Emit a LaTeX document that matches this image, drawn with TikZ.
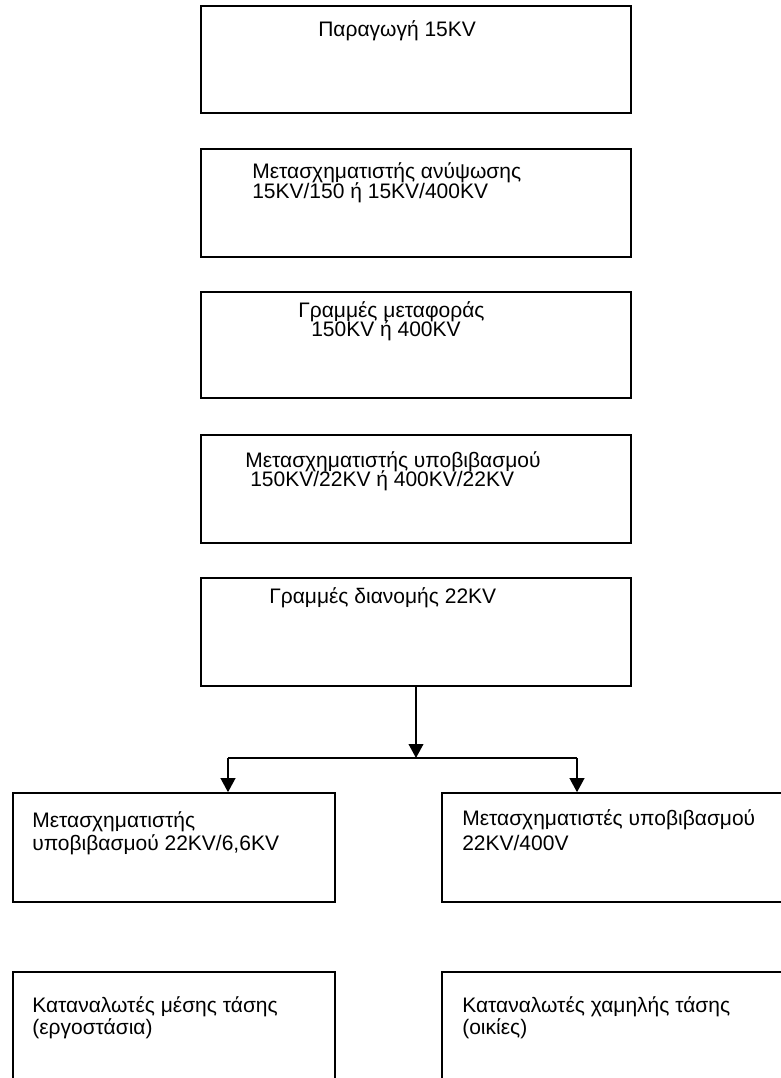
\documentclass[tikz,border=0pt]{standalone}
\usepackage{fontspec}
\setmainfont{Liberation Sans}
\usetikzlibrary{fit,arrows.meta}

\begin{document}
\begin{tikzpicture}[x=0.75pt,y=-0.75pt,
    box/.style={draw, line width=1.2pt, inner sep=0pt},
    txt/.style={anchor=base west, inner sep=0pt, font=\fontsize{15.75}{18}\selectfont},
    arr/.style={line width=1.3pt, -{Triangle[length=10.5pt,width=11pt]}}]
      \useasboundingbox (0,0) rectangle (781,1078);
      \clip (0,0) rectangle (781,1078);
      % Draw the boxes
      \node[box, fit={(201,6) (631,113)}] (b1) {};
      \node[box, fit={(201,149) (631,257)}] (b2) {};
      \node[box, fit={(201,292) (631,398)}] (b3) {};
      \node[box, fit={(201,435) (631,543)}] (b4) {};
      \node[box, fit={(201,578) (631,686)}] (b5) {};
      \node[box, fit={(13,793) (335,902)}] (b6) {};
      \node[box, fit={(442,793) (812,902)}] (b7) {};
      \node[box, fit={(13,972) (335,1110)}] (b8) {};
      \node[box, fit={(442,972) (812,1110)}] (b9) {};
      % Draw the texts
      \node[txt] (t1) at (318, 36) {Παραγωγή 15KV};
        \node[txt] (t21) at (252, 178) {Μετασχηματιστής ανύψωσης};
        \node[txt] (t22) at (252, 198) {15KV/150 ή 15KV/400KV};
        \node[txt] (t31) at (298, 317) {Γραμμές μεταφοράς};
        \node[txt] (t32) at (311, 336) {150KV ή 400KV};
        \node[txt] (t41) at (245, 467) {Μετασχηματιστής υποβιβασμού};
        \node[txt] (t42) at (250, 486) {150KV/22KV ή 400KV/22KV};
      \node[txt] (t5) at (269, 603) {Γραμμές διανομής 22KV};
        \node[txt] (t61) at (32, 827) {Μετασχηματιστής};
        \node[txt] (t62) at (32, 850) {υποβιβασμού 22KV/6,6KV};
        \node[txt] (t71) at (462, 825) {Μετασχηματιστές υποβιβασμού};
        \node[txt] (t72) at (462, 850) {22KV/400V};
        \node[txt] (t81) at (32, 1012) {Καταναλωτές μέσης τάσης};
        \node[txt] (t82) at (32, 1034) {(εργοστάσια)};
        \node[txt] (t91) at (462, 1012) {Καταναλωτές χαμηλής τάσης};
        \node[txt] (t92) at (462, 1034) {(οικίες)};
      % Draw the connectors
      \coordinate (split) at (416, 758);
      \coordinate (jl) at (228, 758);
      \coordinate (jr) at (577, 758);
      \draw[arr] (b5.south -| split) -- (split);
      \draw[line width=1.3pt] (jl) -- (jr);
      \draw[arr] (jl) -- (jl |- b6.north);
      \draw[arr] (jr) -- (jr |- b7.north);
\end{tikzpicture}
\end{document}
